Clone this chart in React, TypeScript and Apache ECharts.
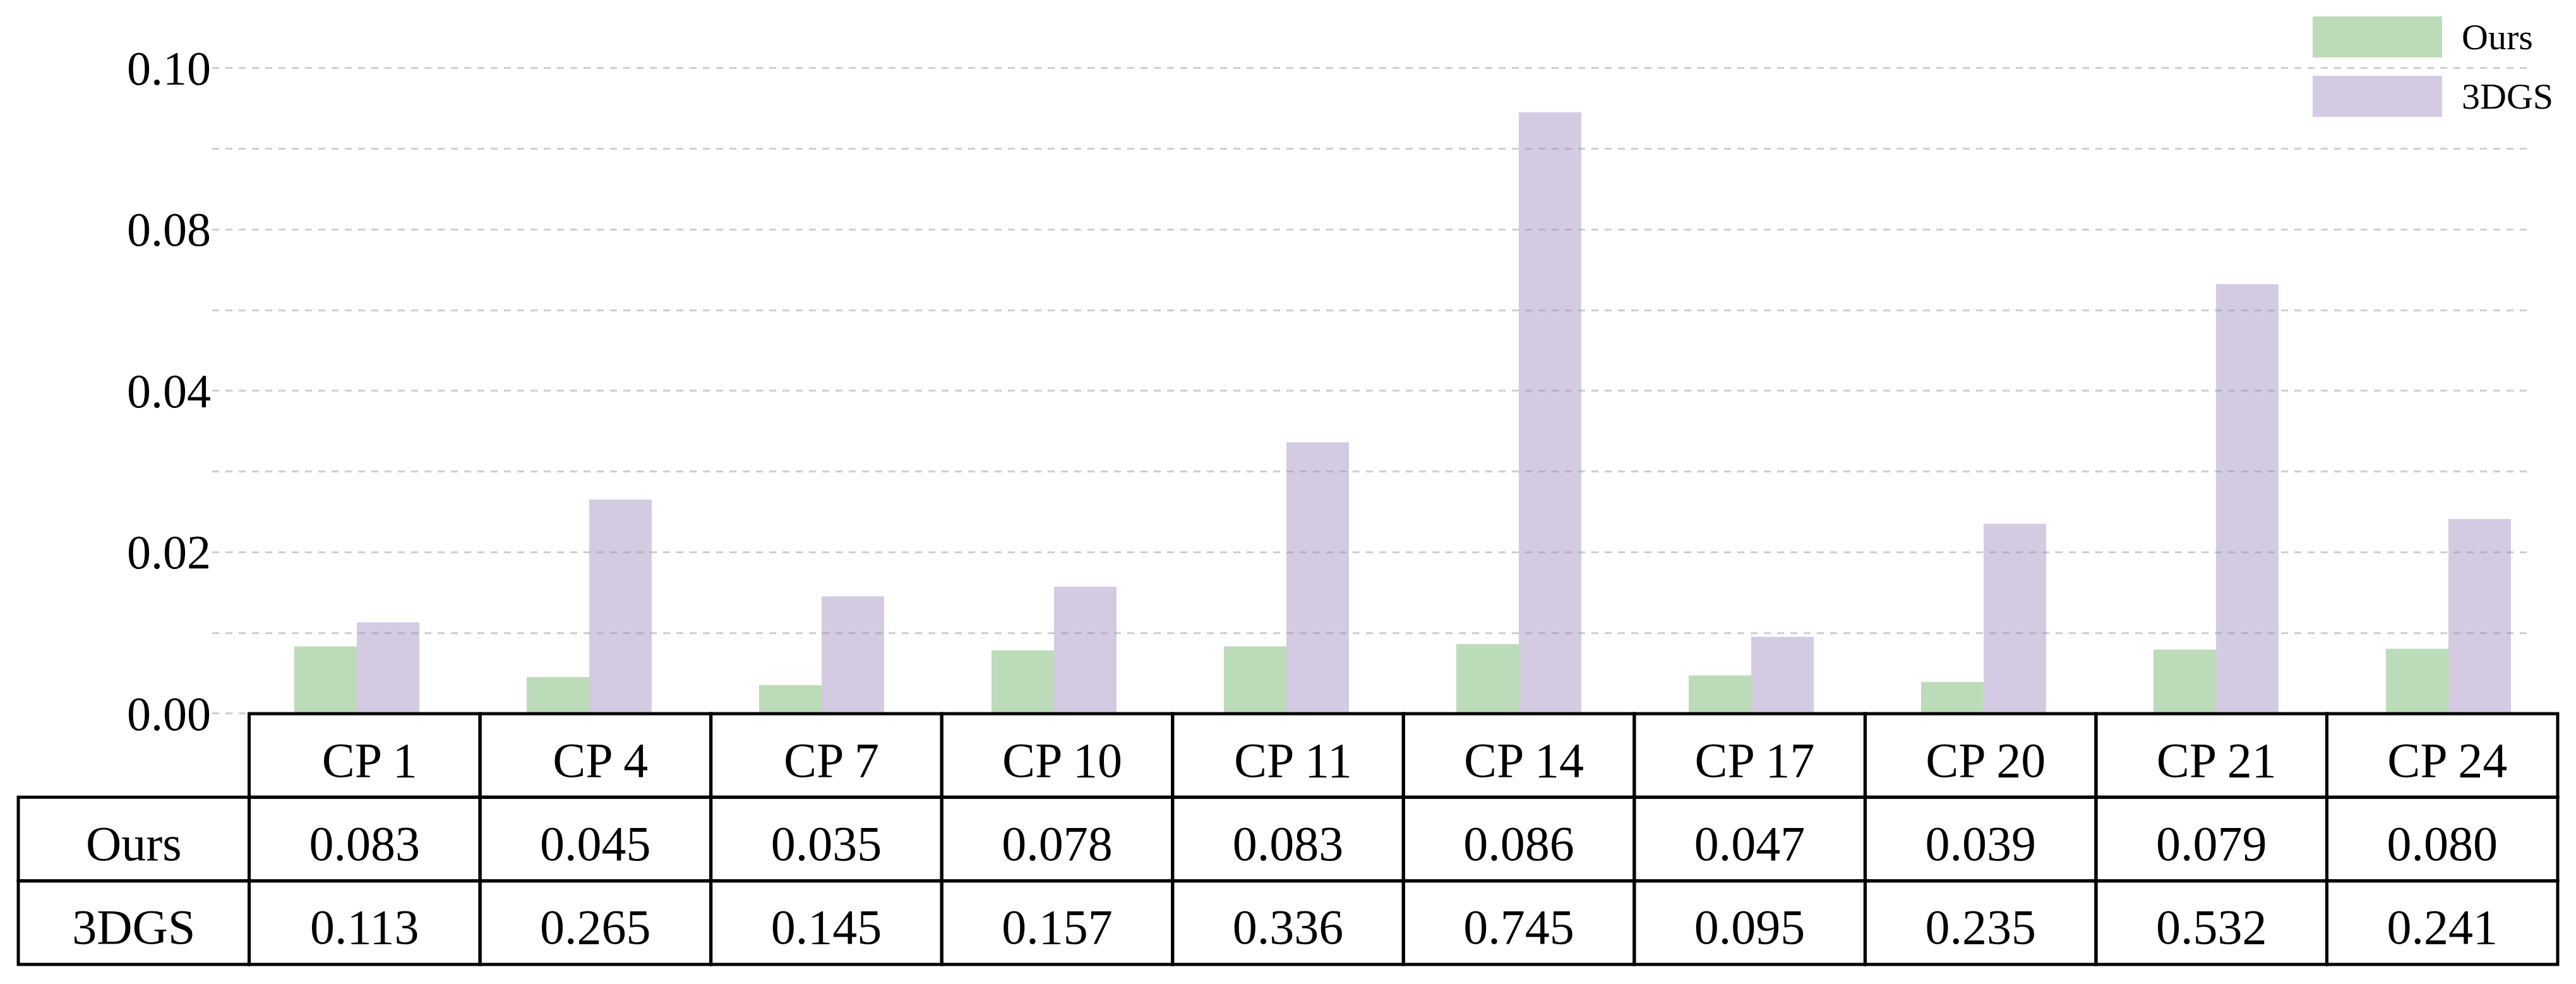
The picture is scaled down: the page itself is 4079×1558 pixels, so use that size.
import React, { useEffect, useRef } from "react";
import * as echarts from "echarts";

// ---- data ----
const categories = ["CP 1", "CP 4", "CP 7", "CP 10", "CP 11", "CP 14", "CP 17", "CP 20", "CP 21", "CP 24"];
const oursValues = [0.083, 0.045, 0.035, 0.078, 0.083, 0.086, 0.047, 0.039, 0.079, 0.080];
const dgsValues = [0.113, 0.265, 0.145, 0.157, 0.336, 0.745, 0.095, 0.235, 0.532, 0.241];
const seriesNames = ["Ours", "3DGS"];
// tick labels exactly as printed on the reference's y axis (one per 0.02 step)
const yTickLabels = ["0.00", "0.02", "0.04", "0.08", "0.10"];
// bars in the reference are drawn at one tenth of the tabulated values
const BAR_SCALE = 0.1;

// ---- layout / style ----
const W = 4079;
const H = 1558;
const FONT = "'Liberation Serif', 'DejaVu Serif', serif";
const GREEN = "#bcdcb9";
const PURPLE = "#d4cbe2";

type Cell = { col: number; row: number; text: string };

export default function App() {
  const ref = useRef<HTMLDivElement>(null);

  useEffect(() => {
    document.body.style.margin = "0";
    const chart = echarts.init(ref.current as HTMLDivElement, null, {
      renderer: "svg",
      width: W,
      height: H,
    });

    const rowNames = ["header", ...seriesNames];
    const tableCols = ["", ...categories];
    const cells: Cell[] = [];
    categories.forEach((c, i) => cells.push({ col: i + 1, row: 0, text: c }));
    cells.push({ col: 0, row: 1, text: seriesNames[0] });
    cells.push({ col: 0, row: 2, text: seriesNames[1] });
    oursValues.forEach((v, i) => cells.push({ col: i + 1, row: 1, text: v.toFixed(3) }));
    dgsValues.forEach((v, i) => cells.push({ col: i + 1, row: 2, text: v.toFixed(3) }));

    const renderCell = (params: any, api: any) => {
      const cell = cells[params.dataIndex];
      const p = api.coord([api.value(0), api.value(1)]);
      const s = api.size([1, 1]);
      return {
        type: "group",
        children: [
          {
            type: "rect",
            shape: { x: p[0] - s[0] / 2, y: p[1] - s[1] / 2, width: s[0], height: s[1] },
            style: { fill: "none", stroke: "#000", lineWidth: 5 },
          },
          {
            type: "text",
            style: {
              text: cell.text,
              x: p[0] + (cell.row === 0 ? 8 : 0),
              y: p[1] + 7,
              align: "center",
              verticalAlign: "middle",
              fontSize: 78,
              fontFamily: FONT,
              fill: "#000",
            },
          },
        ],
      };
    };

    const option: any = {
      animation: false,
      backgroundColor: "#ffffff",
      textStyle: { fontFamily: FONT },
      legend: {
        orient: "vertical",
        left: 3662,
        top: 26,
        itemWidth: 205,
        itemHeight: 65,
        itemGap: 29,
        padding: 0,
        icon: "rect",
        data: seriesNames,
        textStyle: { fontSize: 58, color: "#000", fontFamily: FONT, padding: [0, 0, 0, 26] },
      },
      grid: [
        { left: 381, right: 18, top: 107.6, bottom: 428.5 },
        { left: 336, right: 69, top: 107.6, bottom: 428.5 },
        { left: 29, right: 29, top: 1130, bottom: 31 },
      ],
      xAxis: [
        { gridIndex: 0, type: "category", data: categories, show: false },
        { gridIndex: 1, type: "value", min: 0, max: 1, show: false },
        { gridIndex: 2, type: "category", data: tableCols, show: false },
      ],
      yAxis: [
        { gridIndex: 0, type: "value", min: 0, max: 0.08, show: false },
        {
          gridIndex: 1,
          type: "value",
          min: 0,
          max: 0.08,
          interval: 0.01,
          z: 5,
          axisLine: { show: false },
          axisTick: { show: false },
          splitLine: {
            show: true,
            lineStyle: { color: "rgba(140,140,140,0.42)", width: 3, type: [11, 10] },
          },
          axisLabel: {
            margin: 2,
            fontSize: 76,
            color: "#000",
            fontFamily: FONT,
            formatter: (v: number) => {
              const i = Math.round(v / 0.01);
              return i % 2 === 0 ? yTickLabels[i / 2] ?? "" : "";
            },
          },
        },
        { gridIndex: 2, type: "category", data: rowNames, inverse: true, show: false },
      ],
      series: [
        {
          name: seriesNames[0],
          type: "bar",
          xAxisIndex: 0,
          yAxisIndex: 0,
          data: oursValues.map((v) => v * BAR_SCALE),
          barWidth: 99,
          barGap: "0%",
          itemStyle: { color: GREEN },
        },
        {
          name: seriesNames[1],
          type: "bar",
          xAxisIndex: 0,
          yAxisIndex: 0,
          data: dgsValues.map((v) => v * BAR_SCALE),
          barWidth: 99,
          barGap: "0%",
          itemStyle: { color: PURPLE },
        },
        {
          type: "custom",
          xAxisIndex: 2,
          yAxisIndex: 2,
          silent: true,
          z: 10,
          data: cells.map((c) => [c.col, c.row]),
          renderItem: renderCell,
        },
      ],
    };

    chart.setOption(option);
    return () => chart.dispose();
  }, []);

  return <div ref={ref} style={{ width: W, height: H, overflow: "hidden" }} />;
}
